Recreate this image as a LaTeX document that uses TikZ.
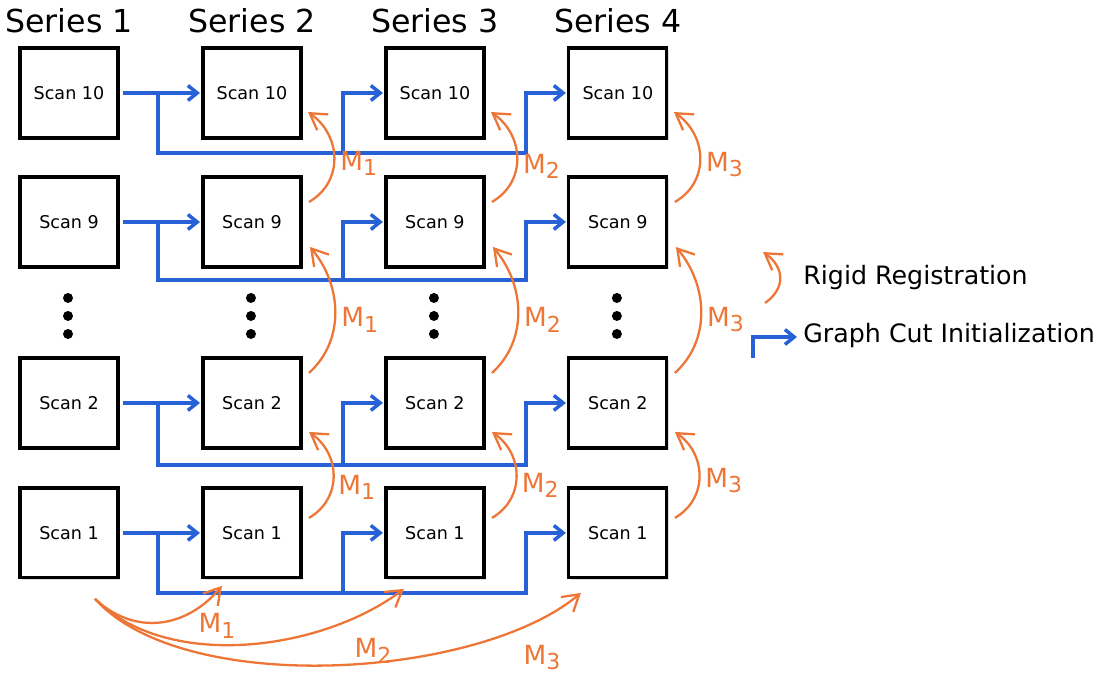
\documentclass[tikz,border=0pt]{standalone}
\usepackage{fontspec}
\setmainfont{DejaVu Sans}
\usepackage{xcolor}
\usetikzlibrary{positioning}
\usetikzlibrary{arrows.meta}
\usetikzlibrary{calc}
\usetikzlibrary{shadows}
\definecolor{initblue}{RGB}{40,96,214}
\definecolor{regorange}{RGB}{237,118,54}
\newcommand{\regM}[1]{M\raisebox{-3pt}{\fontsize{12.5}{12.5}\selectfont #1}}

\begin{document}
\begin{tikzpicture}[
  x=0.02cm, y=0.02cm,
  font=\fontsize{10}{12}\selectfont,
  scan/.style={draw, line width=1.8pt, minimum width=1.96cm, minimum height=1.8cm, inner sep=0pt, outer sep=0pt, fill=white,
    drop shadow={shadow xshift=1.2pt, shadow yshift=-1.2pt, opacity=0.25}},
  head/.style={inner sep=0pt, font=\fontsize{18}{20}\selectfont},
  init/.style={initblue, line width=2pt, -{Straight Barb[length=5.3pt, width=8.5pt]}, shorten >=1.7pt},
  reg/.style={regorange, line width=1.3pt, -{Straight Barb[length=9pt, width=11pt]}},
  mlabel/.style={regorange, font=\fontsize{15}{17}\selectfont, inner sep=1pt},
  mside/.style={mlabel, right, xshift=2pt},
  legend/.style={font=\fontsize{14.4}{16}\selectfont, anchor=base west, inner sep=0pt}
]
\useasboundingbox (0,0) rectangle (1106,-675);

% Scans, one column per series
\node[scan] (a10) at (69,-93) {Scan 10};
\node[scan, below=0.78cm of a10] (a9) {Scan 9};
\node[scan, below=1.82cm of a9] (a2) {Scan 2};
\node[scan, below=0.8cm of a2] (a1) {Scan 1};

\node[scan, right=1.7cm of a10] (b10) {Scan 10};
\node[scan, right=1.7cm of a9] (b9) {Scan 9};
\node[scan, right=1.7cm of a2] (b2) {Scan 2};
\node[scan, right=1.7cm of a1] (b1) {Scan 1};

\node[scan, right=1.7cm of b10] (c10) {Scan 10};
\node[scan, right=1.7cm of b9] (c9) {Scan 9};
\node[scan, right=1.7cm of b2] (c2) {Scan 2};
\node[scan, right=1.7cm of b1] (c1) {Scan 1};

\node[scan, right=1.7cm of c10] (d10) {Scan 10};
\node[scan, right=1.7cm of c9] (d9) {Scan 9};
\node[scan, right=1.7cm of c2] (d2) {Scan 2};
\node[scan, right=1.7cm of c1] (d1) {Scan 1};

\node[head, above=0.3cm of a10] (h1) {Series 1};
\node[head, above=0.3cm of b10] (h2) {Series 2};
\node[head, above=0.3cm of c10] (h3) {Series 3};
\node[head, above=0.3cm of d10] (h4) {Series 4};

% skipped scans
\foreach \n in {a9,b9,c9,d9}
  \foreach \dy in {31,49,67}
    \fill ($(\n.south)+(-1,-\dy)$) circle[radius=0.1cm];

% Graph cut initialization
\coordinate (j10) at ($(a10.east)+(40,0)$);
\coordinate (bus10) at ($(a10.south)+(0,-15)$);
\coordinate (u10) at ($(c10.west)+(-43,0)$);
\coordinate (v10) at ($(d10.west)+(-43,0)$);
\draw[init, shorten <=2.8pt] (a10.east) -- (b10.west);
\draw[init] (j10) |- (v10 |- bus10) |- (d10.west);
\draw[init] (u10 |- bus10) |- (c10.west);

\coordinate (j9) at ($(a9.east)+(40,0)$);
\coordinate (bus9) at ($(a9.south)+(0,-13)$);
\coordinate (u9) at ($(c9.west)+(-43,0)$);
\coordinate (v9) at ($(d9.west)+(-43,0)$);
\draw[init, shorten <=2.8pt] (a9.east) -- (b9.west);
\draw[init] (j9) |- (v9 |- bus9) |- (d9.west);
\draw[init] (u9 |- bus9) |- (c9.west);

\coordinate (j2) at ($(a2.east)+(40,0)$);
\coordinate (bus2) at ($(a2.south)+(0,-17)$);
\coordinate (u2) at ($(c2.west)+(-43,0)$);
\coordinate (v2) at ($(d2.west)+(-43,0)$);
\draw[init, shorten <=2.8pt] (a2.east) -- (b2.west);
\draw[init] (j2) |- (v2 |- bus2) |- (d2.west);
\draw[init] (u2 |- bus2) |- (c2.west);

\coordinate (j1) at ($(a1.east)+(40,0)$);
\coordinate (bus1) at ($(a1.south)+(0,-15)$);
\coordinate (u1) at ($(c1.west)+(-43,0)$);
\coordinate (v1) at ($(d1.west)+(-43,0)$);
\draw[init, shorten <=2.8pt] (a1.east) -- (b1.west);
\draw[init] (j1) |- (v1 |- bus1) |- (d1.west);
\draw[init] (u1 |- bus1) |- (c1.west);

% Rigid registration inside each series
\draw[reg] ($(b9.east)+(8,20)$) to[out=30, in=-35, looseness=1.15] node[mside, pos=0.45] {\regM{1}} ($(b10.south east)+(7,26)$);
\draw[reg] ($(b2.north east)+(8,-15)$) to[out=42, in=-50, looseness=1] node[mside, pos=0.44] {\regM{1}} ($(b9.south east)+(9,20)$);
\draw[reg] ($(b1.east)+(8,15)$) to[out=30, in=-35, looseness=1.15] node[mside, pos=0.38] {\regM{1}} ($(b2.south east)+(8,16)$);

\draw[reg] ($(c9.east)+(8,20)$) to[out=30, in=-35, looseness=1.15] node[mside, pos=0.42] {\regM{2}} ($(c10.south east)+(7,26)$);
\draw[reg] ($(c2.north east)+(8,-15)$) to[out=42, in=-50, looseness=1] node[mside, pos=0.44] {\regM{2}} ($(c9.south east)+(9,20)$);
\draw[reg] ($(c1.east)+(8,15)$) to[out=30, in=-35, looseness=1.15] node[mside, pos=0.4] {\regM{2}} ($(c2.south east)+(8,16)$);

\draw[reg] ($(d9.east)+(8,20)$) to[out=30, in=-35, looseness=1.15] node[mside, pos=0.44] {\regM{3}} ($(d10.south east)+(7,26)$);
\draw[reg] ($(d2.north east)+(8,-15)$) to[out=42, in=-50, looseness=1] node[mside, pos=0.44] {\regM{3}} ($(d9.south east)+(9,20)$);
\draw[reg] ($(d1.east)+(8,15)$) to[out=30, in=-35, looseness=1.15] node[mside, pos=0.45] {\regM{3}} ($(d2.south east)+(8,16)$);

% Rigid registration across series
\coordinate (fan) at ($(a1.south)+(26,-21)$);
\draw[reg] (fan) to[out=-43, in=-130, looseness=1.1] ($(b1.south)+(-30,-8)$);
\draw[reg] (fan) to[out=-45, in=-143, looseness=0.85] ($(c1.south)+(-31,-11)$);
\draw[reg] (fan) to[out=-48, in=-140, looseness=0.7] ($(d1.south)+(-37,-15)$);
\node[mlabel] (m1) at ($(b1.south)+(-35,-48)$) {\regM{1}};
\node[mlabel] (m2) at ($(c1.south)+(-62,-73)$) {\regM{2}};
\node[mlabel] (m3) at ($(d1.south)+(-76,-80)$) {\regM{3}};

% Legend
\coordinate (rr1) at (765,-303);
\coordinate (rr2) at (763,-252);
\coordinate (gc1) at (753,-358);
\coordinate (gc2) at (797,-337);
\draw[reg] (rr1) to[out=35, in=-35, looseness=1.3] (rr2);
\draw[init, shorten >=0pt] (gc1) |- (gc2);
\node[legend] (rigid) at (803,-285) {Rigid Registration};
\node[legend] (gcut) at (803,-343) {Graph Cut Initialization};

\end{tikzpicture}
\end{document}
